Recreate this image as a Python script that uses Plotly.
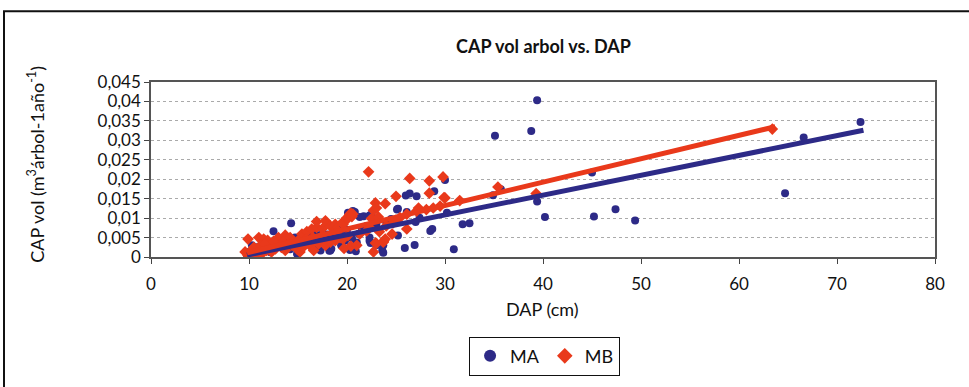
import plotly.graph_objects as go

# ---- data ----
MA_dap = [9.8, 10.0, 10.3, 10.6, 11.0, 11.1, 11.6, 12.0, 12.3, 12.5, 13.0, 13.7, 14.0, 14.3, 14.7,
          14.9, 15.0, 15.4, 16.2, 16.7, 17.2, 17.3, 17.8, 18.2, 18.3, 18.4, 18.8, 19.1, 19.5, 19.6,
          19.8, 20.1, 20.3, 20.5, 20.6, 20.8, 20.9, 21.0, 21.3, 21.7, 22.3, 22.3, 22.4, 22.5, 22.3,
          23.0, 23.6, 23.7, 23.7, 25.1, 25.2, 25.2, 25.9, 26.0, 26.1, 26.4, 26.9, 27.0, 27.1, 27.4,
          28.5, 28.7, 28.9, 30.0, 30.2, 30.9, 31.8, 32.5, 34.9, 35.1, 35.7, 38.8, 39.4, 39.4, 40.2,
          45.0, 45.2, 47.4, 49.4, 64.7, 66.6, 72.4,
          10.8, 11.4, 12.8, 13.4, 14.5, 15.6, 16.0, 16.5, 17.0, 17.5, 18.0, 18.6, 19.0, 19.3, 20.0,
          21.5, 22.0, 23.0, 24.0, 24.5, 21.2, 19.4, 16.8, 14.2, 12.2]
MA_vol = [0.0004, 0.0013, 0.0030, 0.0021, 0.0017, 0.0008, 0.0042, 0.0034, 0.0025, 0.0066, 0.0038,
          0.0030, 0.0046, 0.0087, 0.0050, 0.0008, 0.0030, 0.0025, 0.0063, 0.0067, 0.0046, 0.0017,
          0.0038, 0.0016, 0.0017, 0.0021, 0.0080, 0.0078, 0.0082, 0.0046, 0.0042, 0.0114, 0.0018,
          0.0048, 0.0118, 0.0116, 0.0015, 0.0037, 0.0103, 0.0105, 0.0107, 0.0042, 0.0036, 0.0110,
          0.0050, 0.0030, 0.0017, 0.0030, 0.0011, 0.0122, 0.0055, 0.0124, 0.0023, 0.0158, 0.0116,
          0.0163, 0.0031, 0.0090, 0.0156, 0.0101, 0.0067, 0.0072, 0.0169, 0.0198, 0.0114, 0.0020,
          0.0084, 0.0087, 0.0159, 0.0312, 0.0174, 0.0324, 0.0403, 0.0143, 0.0103, 0.0217, 0.0104,
          0.0123, 0.0094, 0.0164, 0.0307, 0.0347,
          0.0025, 0.0030, 0.0028, 0.0035, 0.0038, 0.0040, 0.0045, 0.0050, 0.0055, 0.0060, 0.0058,
          0.0052, 0.0060, 0.0066, 0.0070, 0.0075, 0.0080, 0.0085, 0.0090, 0.0098, 0.0060, 0.0030,
          0.0025, 0.0020, 0.0012]

MB_dap = [9.6, 9.9, 9.9, 10.4, 10.8, 11.0, 11.3, 11.5, 11.8, 11.9, 12.3, 12.7, 13.0, 13.3, 13.7,
          13.7, 14.2, 14.4, 14.9, 15.2, 15.4, 15.5, 15.9, 16.2, 16.4, 16.6, 16.9, 16.9, 17.1, 17.5,
          17.8, 17.8, 18.3, 18.3, 18.8, 18.8, 18.9, 19.3, 19.5, 19.6, 19.6, 20.0, 20.0, 20.1, 20.3,
          20.4, 20.5, 20.6, 19.7, 20.4, 21.0, 21.3, 22.0, 22.2, 22.3, 22.5, 22.7, 22.7, 22.9, 22.9,
          23.0, 23.0, 23.2, 23.3, 23.7, 23.7, 23.9, 23.9, 24.0, 24.6, 24.7, 25.0, 25.0, 25.4, 26.1,
          26.1, 26.4, 27.1, 27.3, 28.1, 28.4, 28.4, 28.8, 29.5, 29.8, 29.9, 30.0, 31.5, 35.4, 39.3,
          63.4,
          10.5, 11.2, 12.0, 12.8, 13.5, 14.5, 15.0, 15.8, 16.5, 17.5, 18.5, 19.0, 10.2, 10.0, 11.6,
          12.5, 14.0]
MB_vol = [0.0013, 0.0004, 0.0046, 0.0004, 0.0002, 0.0050, 0.0008, 0.0046, 0.0017, 0.0043, 0.0013,
          0.0021, 0.0050, 0.0025, 0.0017, 0.0056, 0.0050, 0.0030, 0.0021, 0.0013, 0.0059, 0.0025,
          0.0065, 0.0030, 0.0072, 0.0017, 0.0076, 0.0091, 0.0034, 0.0073, 0.0030, 0.0093, 0.0080,
          0.0038, 0.0084, 0.0042, 0.0072, 0.0050, 0.0088, 0.0046, 0.0084, 0.0097, 0.0101, 0.0055,
          0.0110, 0.0112, 0.0104, 0.0110, 0.0022, 0.0028, 0.0030, 0.0059, 0.0067, 0.0219, 0.0076,
          0.0099, 0.0013, 0.0120, 0.0036, 0.0139, 0.0126, 0.0035, 0.0103, 0.0065, 0.0040, 0.0038,
          0.0137, 0.0046, 0.0080, 0.0059, 0.0088, 0.0156, 0.0095, 0.0101, 0.0072, 0.0110, 0.0202,
          0.0118, 0.0126, 0.0122, 0.0196, 0.0164, 0.0126, 0.0131, 0.0206, 0.0153, 0.0152, 0.0145,
          0.0180, 0.0163, 0.0329,
          0.0025, 0.0030, 0.0028, 0.0035, 0.0038, 0.0040, 0.0042, 0.0045, 0.0050, 0.0055, 0.0060,
          0.0065, 0.0015, 0.0008, 0.0033, 0.0040, 0.0032]

# linear trend lines (end points)
MA_trend_dap = [9.8, 72.7]
MA_trend_vol = [0.0005, 0.0326]
MB_trend_dap = [9.8, 63.7]
MB_trend_vol = [0.0011, 0.0335]

y_tickvals = [0, 0.005, 0.01, 0.015, 0.02, 0.025, 0.03, 0.035, 0.04, 0.045]
y_ticktext = ["0", "0,005", "0,01", "0,015", "0,02", "0,025", "0,03", "0,035", "0,04", "0,045"]
x_tickvals = [0, 10, 20, 30, 40, 50, 60, 70, 80]

BLUE = "#2d2a87"
RED = "#e9391b"
FONT = "Lato"

fig = go.Figure()
fig.add_trace(go.Scatter(x=MA_dap, y=MA_vol, mode="markers", name="MA",
                         marker=dict(symbol="circle", size=8, color=BLUE)))
fig.add_trace(go.Scatter(x=MB_dap, y=MB_vol, mode="markers", name="MB",
                         marker=dict(symbol="diamond", size=9, color=RED)))
fig.add_trace(go.Scatter(x=MA_trend_dap, y=MA_trend_vol, mode="lines", showlegend=False,
                         line=dict(color=BLUE, width=5)))
fig.add_trace(go.Scatter(x=MB_trend_dap, y=MB_trend_vol, mode="lines", showlegend=False,
                         line=dict(color=RED, width=5)))

fig.update_layout(
    width=969, height=387,
    margin=dict(l=151, r=34, t=82, b=127),
    paper_bgcolor="white", plot_bgcolor="white",
    font=dict(family=FONT, size=17, color="#111"),
    showlegend=True,
    legend=dict(orientation="h", x=0.502, xanchor="center", y=-0.455, yanchor="top",
                bgcolor="white", bordercolor="#111", borderwidth=1,
                font=dict(family=FONT, size=18, color="#111"),
                itemsizing="constant"),
    xaxis=dict(range=[0, 80], tickvals=x_tickvals, ticks="outside", ticklen=5,
               tickcolor="#444", showline=True, linecolor="#555", linewidth=1.5,
               mirror=True, showgrid=False, zeroline=False, ticklabelstandoff=6,
               tickfont=dict(family=FONT, size=17, color="#111")),
    yaxis=dict(range=[0, 0.045], tickvals=y_tickvals, ticktext=y_ticktext, ticks="outside",
               ticklen=5, tickcolor="#444", showline=True, linecolor="#555", linewidth=1.5,
               mirror=True, showgrid=True, gridcolor="#aaaaaa", griddash="dot", gridwidth=1,
               zeroline=False, tickfont=dict(family=FONT, size=17, color="#111")),
    annotations=[
        dict(text="<b>CAP vol arbol vs. DAP</b>", xref="paper", yref="paper", x=0.501, y=1.208,
             xanchor="center", yanchor="middle", showarrow=False,
             font=dict(family=FONT, size=18, color="#111")),
        dict(text="DAP (cm)", xref="paper", yref="paper", x=0.499, y=-0.298,
             xanchor="center", yanchor="middle", showarrow=False,
             font=dict(family=FONT, size=18, color="#111")),
        dict(text="CAP vol (m<sup>3</sup>árbol-1año<sup>-1</sup>)", xref="paper", yref="paper",
             x=-0.146, y=0.53, xanchor="center", yanchor="middle", textangle=-90, showarrow=False,
             font=dict(family=FONT, size=18, color="#111")),
    ],
    shapes=[
        dict(type="rect", xref="paper", yref="paper", x0=-0.1875, x1=1.06, y0=-0.78, y1=1.404,
             line=dict(color="#111", width=2), fillcolor="rgba(0,0,0,0)", layer="below"),
    ],
)

fig.write_html("out.html")
